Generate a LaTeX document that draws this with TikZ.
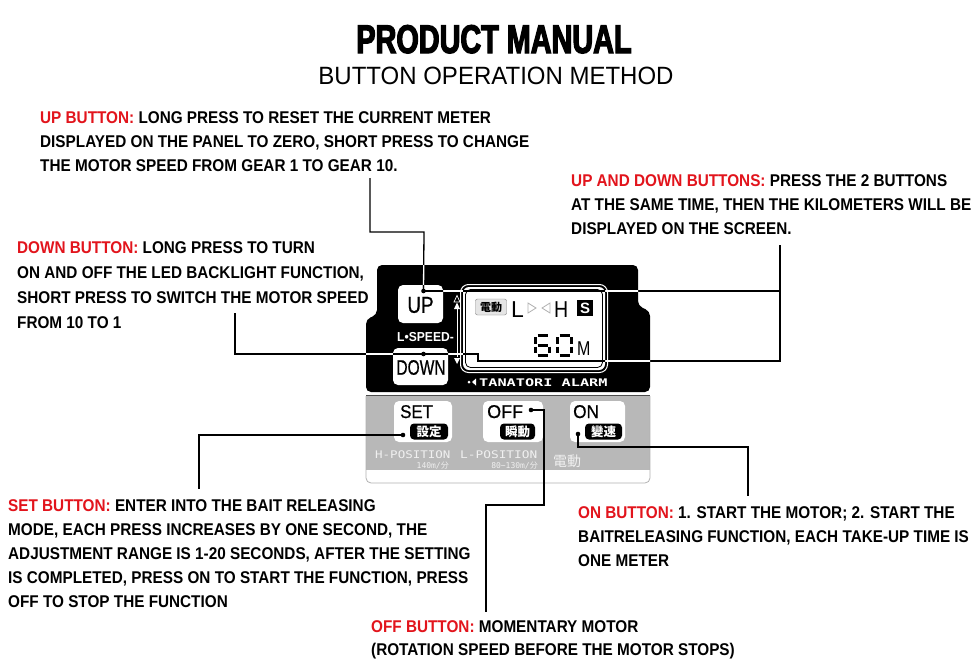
\documentclass[tikz,border=0pt]{standalone}
\usepackage{fontspec}
\setmainfont{Liberation Sans}
\newfontfamily\bodyf[FakeStretch=0.9]{Liberation Sans}
\newfontfamily\titlef[FakeStretch=0.72,FakeBold=3]{Liberation Sans}
\newfontfamily\subf[FakeStretch=0.96]{Liberation Sans}
\newfontfamily\btnf[FakeBold=0.8]{Liberation Sans}
\newfontfamily\cjkf{Noto Sans CJK JP}
\newfontfamily\monof{DejaVu Sans Mono}
\definecolor{tred}{RGB}{226,20,28}
\definecolor{pgray}{RGB}{184,184,184}
\definecolor{ltxt}{RGB}{240,240,240}
\tikzset{
  txt/.style={inner sep=0pt, anchor=base west, font=\bodyf\bfseries\fontsize{17}{20}\selectfont},
  conn/.style={line width=1.3pt, black, line join=miter},
  connw/.style={line width=1.3pt, white, line join=miter},
  btn/.style={fill=white, rounded corners=5pt, inner sep=0pt},
  kbox/.style={fill=black, text=white, rounded corners=4pt, inner sep=0pt, minimum height=16pt, font=\cjkf\bfseries\fontsize{12.5}{13}\selectfont},
  seg/.style={line width=3pt, black},
  ptxt/.style={inner sep=0pt, text=ltxt},
}
\def\panelpath{(366,392) -- (366,319) -- (377,315) -- (377,265) -- (638,265) -- (638,306) -- (650,311) -- (650,392) -- cycle}
\def\pUP{(upT) -- (370,232) -- (424,232) -- (upDot)}
\def\pUDa{(upDot) -- (780,291)}
\def\pDN{(dnT) -- (235,354) -- (dnDot)}
\def\pUDb{(dnDot) -- (478,354) -- (478,361) -- (780,361) -- (udT)}
\begin{document}
\begin{tikzpicture}[x=1pt,y=-1pt]
\fill[white] (0,0) rectangle (980,670);
\useasboundingbox (0,0) rectangle (980,670);

% titles
\node[inner sep=0pt, anchor=base, font=\titlef\bfseries\fontsize{40}{40}\selectfont] (title) at (494,53) {PRODUCT MANUAL};
\node[inner sep=0pt, anchor=base, font=\subf\fontsize{25}{25}\selectfont] (subtitle) at (496,84) {BUTTON OPERATION METHOD};

% panel
\fill[black, rounded corners=5pt] \panelpath;
\draw[black!70, line width=0.6pt] (366,395.5) -- (650,395.5);
\fill[pgray] (366,396) rectangle (650,470);
\draw[gray!60, line width=0.8pt, rounded corners=5pt] (366,396) -- (366,483) -- (650,483) -- (650,396);

% display
\draw[white, line width=1pt, rounded corners=8pt] (460.5,284.5) rectangle (607.5,372.5);
\fill[white, rounded corners=6pt] (463,287) rectangle (605,370);
\draw[black, line width=0.8pt, rounded corners=5pt] (465.5,289.5) rectangle (602.5,367.5);

% upper buttons
\node[btn, minimum width=45pt, minimum height=38pt] (upbtn) at (420.5,304) {};
\node[inner sep=0pt, font=\btnf\fontsize{23}{23}\selectfont] (uptext) at (420.5,305) {\scalebox{0.82}[1]{UP}};
\node[btn, minimum width=55pt, minimum height=37pt] (dnbtn) at (420.5,366.5) {};
\node[inner sep=0pt, font=\btnf\fontsize{21}{21}\selectfont] (dntext) at (421,367.5) {\scalebox{0.74}[1]{DOWN}};
\node[inner sep=0pt, anchor=base west, text=white, font=\bfseries\fontsize{13}{13}\selectfont] (lspeed) at (397,341.5) {\scalebox{0.93}[1]{L•SPEED-}};

% arrows near speed
\draw[white, line width=0.7pt] (454,302) -- (457,295.5) -- (460,302) -- cycle;
\fill[white] (454,309) -- (457,302.5) -- (460,309) -- cycle;
\draw[white, line width=0.8pt] (457,309) -- (457,357);
\fill[white] (454,358) -- (460,358) -- (457,364) -- cycle;

% alarm label
\fill[white] (469,382) circle (1.5pt);
\fill[white] (472,382) -- (476,378.5) -- (476,385.5) -- cycle;
\node[inner sep=0pt, anchor=base west, text=white, font=\monof\bfseries\fontsize{10.5}{10.5}\selectfont] (alarm) at (479,386) {\scalebox{1.45}[1]{TANATORI ALARM}};

% display content
\node[draw=gray, fill=gray!20, rounded corners=2pt, inner sep=0pt, minimum width=31pt, minimum height=16pt, font=\cjkf\bfseries\fontsize{11}{11}\selectfont] (dd) at (491,307) {電動};
\node[inner sep=0pt, anchor=base west, font=\fontsize{23}{23}\selectfont] (Lt) at (511,317) {L};
\draw[gray!60, line width=0.8pt] (528,303) -- (536,308) -- (528,313) -- cycle;
\draw[gray!60, line width=0.8pt] (550,303) -- (542,308) -- (550,313) -- cycle;
\node[inner sep=0pt, anchor=base west, font=\fontsize{23}{23}\selectfont] (Ht) at (554,317) {\scalebox{0.85}[1]{H}};
\node[fill=black, text=white, minimum width=16pt, minimum height=16pt, inner sep=0pt, font=\bfseries\fontsize{15}{15}\selectfont] (Sbox) at (585,308) {S};
% digit 6
\draw[seg] (537.5,335) -- (547.5,335);
\draw[seg] (535.5,337) -- (535.5,343.5);
\draw[seg] (537.5,345) -- (547.5,345);
\draw[seg] (535.5,346.5) -- (535.5,353);
\draw[seg] (549.5,346.5) -- (549.5,353);
\draw[seg] (537.5,355) -- (547.5,355);
% digit 0
\draw[seg] (559.5,335) -- (569.5,335);
\draw[seg] (557.5,337) -- (557.5,343.5);
\draw[seg] (571.5,337) -- (571.5,343.5);
\draw[seg] (557.5,346.5) -- (557.5,353);
\draw[seg] (571.5,346.5) -- (571.5,353);
\draw[seg] (559.5,355) -- (569.5,355);
\node[inner sep=0pt, anchor=base west, font=\fontsize{20}{20}\selectfont] (Mt) at (577,355.5) {\scalebox{0.8}[1]{M}};

% lower buttons
\node[btn, minimum width=58pt, minimum height=41pt] (setbtn) at (423,421.5) {};
\node[btn, minimum width=60pt, minimum height=41pt] (offbtn) at (513,421.5) {};
\node[btn, minimum width=55pt, minimum height=41pt] (onbtn) at (597.5,421.5) {};
\node[inner sep=0pt, anchor=base west, font=\btnf\fontsize{18.5}{18.5}\selectfont] (settext) at (400,418) {\scalebox{0.91}[1]{SET}};
\node[inner sep=0pt, anchor=base west, font=\btnf\fontsize{18.5}{18.5}\selectfont] (offtext) at (487,418) {\scalebox{0.97}[1]{OFF}};
\node[inner sep=0pt, anchor=base west, font=\btnf\fontsize{18.5}{18.5}\selectfont] (ontext) at (573,418) {\scalebox{0.93}[1]{ON}};
\node[kbox, minimum width=38pt] (setk) at (429,431.5) {設定};
\node[kbox, minimum width=35pt] (offk) at (517.5,431.5) {瞬動};
\node[kbox, minimum width=37pt] (onk) at (603.5,431.5) {變速};

% gray area labels
\node[ptxt, anchor=base west, font=\monof\fontsize{10.5}{10.5}\selectfont] (hpos) at (375,458) {\scalebox{1.19}[1]{H-POSITION}};
\node[ptxt, anchor=base east, font=\monof\fontsize{8}{8}\selectfont] (hspd) at (449,468) {140m/{\cjkf 分}};
\node[ptxt, anchor=base west, font=\monof\fontsize{10.5}{10.5}\selectfont] (lpos) at (460,458) {\scalebox{1.22}[1]{L-POSITION}};
\node[ptxt, anchor=base east, font=\monof\fontsize{8}{8}\selectfont] (lspd) at (538,468) {80\char"007E 130m/{\cjkf 分}};
\node[ptxt, font=\cjkf\fontsize{14}{14}\selectfont] (dendo) at (567,461) {電動};

% texts
\node[txt] (up1) at (40,123) {\textcolor{tred}{UP BUTTON:} LONG PRESS TO RESET THE CURRENT METER};
\node[txt] (up2) at (40,147) {DISPLAYED ON THE PANEL TO ZERO, SHORT PRESS TO CHANGE};
\node[txt] (up3) at (40,171) {THE MOTOR SPEED FROM GEAR 1 TO GEAR 10.};

\node[txt] (ud1) at (571,186) {\textcolor{tred}{UP AND DOWN BUTTONS:} PRESS THE 2 BUTTONS};
\node[txt] (ud2) at (571,210) {AT THE SAME TIME, THEN THE KILOMETERS WILL BE};
\node[txt] (ud3) at (571,234) {DISPLAYED ON THE SCREEN.};

\node[txt] (dn1) at (17,253) {\textcolor{tred}{DOWN BUTTON:} LONG PRESS TO TURN};
\node[txt] (dn2) at (17,278) {ON AND OFF THE LED BACKLIGHT FUNCTION,};
\node[txt] (dn3) at (17,303) {SHORT PRESS TO SWITCH THE MOTOR SPEED};
\node[txt] (dn4) at (17,328) {FROM 10 TO 1};

\node[txt] (st1) at (8,511) {\textcolor{tred}{SET BUTTON:} ENTER INTO THE BAIT RELEASING};
\node[txt] (st2) at (8,535) {MODE, EACH PRESS INCREASES BY ONE SECOND, THE};
\node[txt] (st3) at (8,559) {ADJUSTMENT RANGE IS 1-20 SECONDS, AFTER THE SETTING};
\node[txt] (st4) at (8,583) {IS COMPLETED, PRESS ON TO START THE FUNCTION, PRESS};
\node[txt] (st5) at (8,607) {OFF TO STOP THE FUNCTION};

\node[txt] (on1) at (578,518) {\textcolor{tred}{ON BUTTON:} 1. START THE MOTOR; 2. START THE};
\node[txt] (on2) at (578,542) {BAITRELEASING FUNCTION, EACH TAKE-UP TIME IS};
\node[txt] (on3) at (578,566) {ONE METER};

\node[txt] (of1) at (371,632) {\textcolor{tred}{OFF BUTTON:} MOMENTARY MOTOR};
\node[txt] (of2) at (371,655) {(ROTATION SPEED BEFORE THE MOTOR STOPS)};

% connector ends
\coordinate (upT) at (370,178);
\coordinate (udT) at (780,245);
\coordinate (dnT) at (235,313);
\coordinate (setT) at (199,489);
\coordinate (offT) at (486,612);
\coordinate (onT) at (748,496);
\coordinate (upDot) at (423.5,291);
\coordinate (dnDot) at (423.5,354);
\coordinate (setDot) at (403,435);
\coordinate (offDot) at (531,410);
\coordinate (onDot) at (578,434);

% connectors
\draw[conn] \pUP;
\draw[conn] \pUDa;
\draw[conn] \pDN;
\draw[conn] \pUDb;
\begin{scope}
  \clip[rounded corners=5pt] \panelpath;
  \draw[connw] \pUP;
  \draw[connw] \pUDa;
  \draw[connw] \pDN;
  \draw[connw] \pUDb;
\end{scope}
\begin{scope}
  \clip (463,287) rectangle (605,370) (398,285) rectangle (443,323) (393,348) rectangle (448,385);
  \draw[conn] \pUP;
  \draw[conn] \pUDa;
  \draw[conn] \pDN;
  \draw[conn] \pUDb;
\end{scope}
\draw[conn] (setDot) -- (setT |- setDot) -- (setT);
\draw[conn] (offDot) -- (544,410) -- (544,505) -- (486,505) -- (offT);
\draw[conn] (onDot) -- (578,447) -- (748,447) -- (onT);

\foreach \d in {upDot,dnDot,setDot,offDot,onDot} \fill[black] (\d) circle (2.3pt);
\end{tikzpicture}
\end{document}
